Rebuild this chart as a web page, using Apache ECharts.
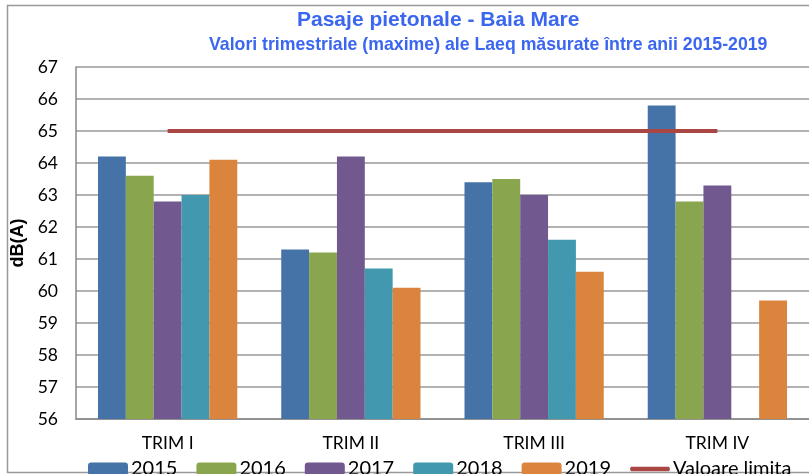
<!DOCTYPE html>
<html>
<head>
<meta charset="utf-8">
<script src="https://cdn.jsdelivr.net/npm/echarts@6/dist/echarts.min.js"></script>
<style>
  html, body { margin: 0; padding: 0; background: #fff; }
  #chart { width: 809px; height: 474px; }
</style>
</head>
<body>
<div id="chart"></div>
<script>
// Data
const categories = ['TRIM I', 'TRIM II', 'TRIM III', 'TRIM IV'];
const years = ['2015', '2016', '2017', '2018', '2019'];
const v2015 = [64.2, 61.3, 63.4, 65.8];
const v2016 = [63.6, 61.2, 63.5, 62.8];
const v2017 = [62.8, 64.2, 63.0, 63.3];
const v2018 = [63.0, 60.7, 61.6, null];
const v2019 = [64.1, 60.1, 60.6, 59.7];
const limit = [65, 65, 65, 65];
const limitName = 'Valoare limita';

const colors = ['#4572A7', '#89A54E', '#71588F', '#4198AF', '#DB843D'];
const yearValues = [v2015, v2016, v2017, v2018, v2019];

const chart = echarts.init(document.getElementById('chart'));

const barSeries = years.map((y, i) => ({
    name: y,
    type: 'bar',
    data: yearValues[i],
    barGap: '0%',
    barCategoryGap: '24%',
    itemStyle: { color: colors[i] }
}));

const option = {
    animation: false,
    title: [
        {
            text: 'Pasaje pietonale - Baia Mare',
            left: 292, top: 5,
            textStyle: { color: '#3A66F0', fontFamily: 'Liberation Sans', fontWeight: 'bold', fontSize: 21 }
        },
        {
            text: 'Valori trimestriale (maxime) ale Laeq măsurate între anii 2015-2019',
            left: 204, top: 31,
            textStyle: { color: '#3A66F0', fontFamily: 'Liberation Sans', fontWeight: 'bold', fontSize: 17.7 }
        }
    ],
    graphic: [{
        type: 'rect',
        shape: { x: 7.5, y: 5.5, width: 820, height: 467 },
        style: { fill: 'none', stroke: '#999', lineWidth: 1.5 },
        silent: true
    }],
    legend: {
        left: 83, top: 454, width: 780,
        itemWidth: 40, itemHeight: 13, itemGap: 19,
        textStyle: { fontFamily: 'Lato', fontSize: 20, color: '#000', padding: [0, 0, 0, -2] },
        data: years.concat([{
            name: limitName,
            icon: 'path://M0,0 L44,0 Q46,2.5 44,5 L0,5 Q-2,2.5 0,0 Z',
            itemStyle: { color: '#AA4643' }
        }])
    },
    grid: { left: 76, right: -3, top: 67, bottom: 55 },
    xAxis: {
        type: 'category',
        data: categories,
        axisLine: { lineStyle: { color: '#888', width: 1.5 } },
        axisTick: { show: false },
        axisLabel: { color: '#000', fontFamily: 'Lato', fontSize: 17.5, margin: 15 }
    },
    yAxis: {
        type: 'value',
        min: 56, max: 67, interval: 1,
        name: 'dB(A)',
        nameLocation: 'middle',
        nameGap: 39,
        nameTextStyle: { color: '#000', fontFamily: 'Liberation Sans', fontWeight: 'bold', fontSize: 18 },
        axisLine: { show: true, lineStyle: { color: '#888', width: 1.5 } },
        axisTick: { show: false },
        splitLine: { lineStyle: { color: '#999', width: 1.5 } },
        axisLabel: { color: '#000', fontFamily: 'Lato', fontSize: 17.5, margin: 18 }
    },
    series: barSeries.concat([{
        name: limitName,
        type: 'line',
        data: limit,
        symbol: 'none',
        lineStyle: { color: '#AA4643', width: 4 },
        itemStyle: { color: '#AA4643' }
    }])
};

chart.setOption(option);
</script>
</body>
</html>
